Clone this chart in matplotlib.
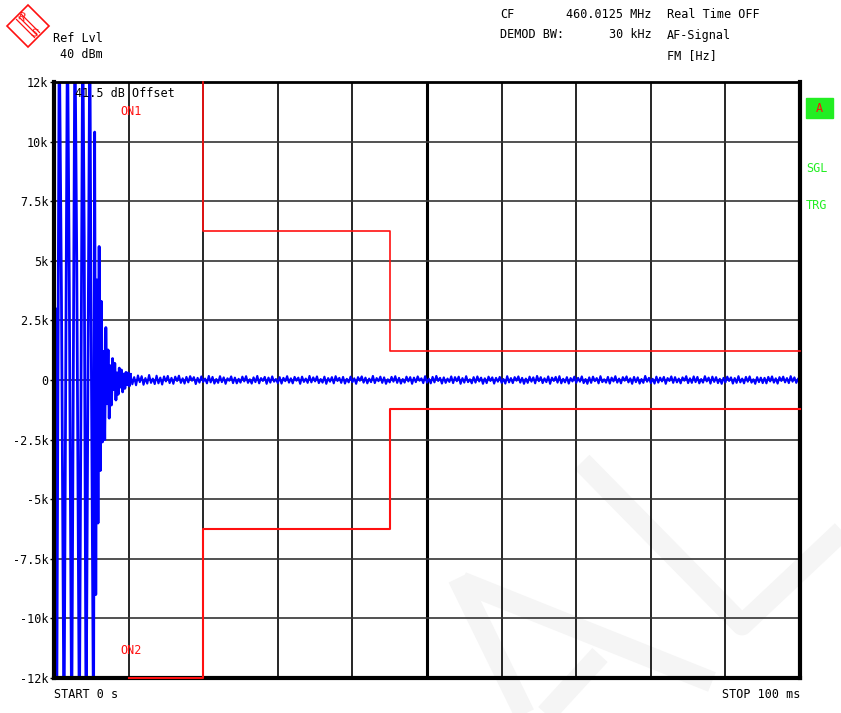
import numpy as np
import matplotlib
matplotlib.use("Agg")
import matplotlib.pyplot as plt
from matplotlib.lines import Line2D
from matplotlib.patches import Polygon, Rectangle

W, H = 841, 713

# ---- data read from the screen shot ----
# burst right after keying (ms, Hz), clipped by the display
burst_t = [0.0, 0.2, 0.36, 0.7, 1.0, 1.34, 1.8, 2.05, 2.37, 2.8, 3.05, 3.4, 3.85, 4.05,
           4.3, 4.8, 4.95, 5.3]
burst_v = [1200, 3000, -15000, 15000, 3500, -15000, 15000, 4000, -15000, 15000, 5000,
           -15000, 15000, 6000, -15000, 15000, 4000, -15000]

# ringing after the burst
decay_t = [5.45, 5.6, 5.75, 5.9, 6.05, 6.2, 6.35, 6.5, 6.65, 6.8, 6.95, 7.1, 7.25, 7.4,
           7.55, 7.7, 7.85, 8.0, 8.15, 8.3, 8.45, 8.6, 8.75, 8.9, 9.05, 9.2, 9.35, 9.5,
           9.65, 9.8, 9.95, 10.1]
decay_v = [10400, -9000, 4200, -6000, 5600, -3800, 3300, -2600, 1200, -2500, 2200, -1000,
           1260, -1600, 600, -1050, 900, -400, 700, -840, 300, -600, 500, -300, 420, -500,
           250, -350, 320, -200, 300, -250]

# residual FM noise, one value every 0.25 ms from 10.25 ms to 100 ms
tail_v = [
    240, -180, 120, -220, 190, -90, 160, -200, 80, -150, 210, -120, 60, -170, 180, -140, 100, -190, 150, -60,
    170, -130, 90, -160, 140, -40, 180, -120, 70, -150, 130, -100, 160, -30, 120, -170, 90, -110, 150, -80,
    60, -140, 170, -100, 130, -150, 40, -120, 160, -90, 110, -160, 70, -30, 150, -130, 100, -140, 50, -110,
    140, -60, 160, -120, 30, -150, 110, -90, 170, -140, 80, -40, 130, -160, 100, -110, 150, -70, 40, -130,
    120, -150, 90, -50, 160, -110, 70, -140, 130, -30, 100, -160, 140, -80, 60, -120, 170, -100, 110, -60,
    150, -130, 40, -110, 140, -160, 80, -70, 120, -140, 160, -40, 90, -120, 130, -150, 50, -100, 140, -90,
    70, -160, 120, -30, 150, -110, 100, -140, 60, -90, 170, -130, 80, -50, 140, -120, 110, -160, 30, -100,
    130, -70, 160, -120, 90, -150, 40, -110, 140, -60, 120, -160, 100, -90, 150, -30, 70, -130, 160, -110,
    50, -140, 130, -100, 170, -40, 90, -150, 110, -120, 60, -80, 150, -130, 120, -50, 140, -160, 80, -110,
    160, -90, 30, -140, 120, -110, 150, -60, 100, -160, 70, -130, 140, -40, 110, -150, 90, -70, 130, -120,
    40, -150, 160, -100, 80, -130, 120, -30, 150, -110, 90, -160, 60, -120, 140, -70, 110, -140, 170, -50,
    120, -130, 70, -90, 150, -160, 100, -40, 130, -110, 160, -140, 50, -100, 120, -150, 80, -60, 140, -120,
    90, -70, 150, -130, 40, -160, 110, -120, 140, -50, 80, -140, 160, -90, 30, -110, 130, -150, 100, -60,
    160, -110, 60, -140, 120, -30, 150, -100, 70, -160, 130, -90, 110, -150, 40, -120, 170, -70, 90, -130,
    50, -150, 140, -110, 100, -60, 130, -160, 80, -40, 150, -120, 120, -100, 60, -140, 110, -30, 160, -130,
    70, -120, 150, -90, 130, -140, 40, -110, 160, -60, 100, -150, 140, -80, 120, -130, 50, -160, 90, -100,
    140, -40, 110, -150, 80, -120, 160, -100, 60, -140, 130, -70, 150, -110, 30, -160, 120, -90, 100, -130,
    90, -140, 130, -60, 150, -110, 70, -150, 120, -40, 140, -100, 80, -130, 160, -70, 110, -120, 60, -90,
]
tail_t = list(np.arange(len(tail_v)) * 0.25 + 10.25)

# limit mask
upper_t = [20, 20, 45, 45, 100]
upper_v = [12500, 6250, 6250, 1200, 1200]
lower_t = [10, 20, 20, 45, 45, 100]
lower_v = [-12500, -12500, -6250, -6250, -1200, -1200]

yticks = [12500, 10000, 7500, 5000, 2500, 0, -2500, -5000, -7500, -10000, -12500]
ylabels = ['12k', '10k', '7.5k', '5k', '2.5k', '0', '-2.5k', '-5k', '-7.5k', '-10k', '-12k']
xticks = [0, 10, 20, 30, 40, 50, 60, 70, 80, 90, 100]

MONO = 'DejaVu Sans Mono'
FS = 8.5


def px(x, y):
    return x / W, 1 - y / H


fig = plt.figure(figsize=(W / 100, H / 100), dpi=100)
fig.patch.set_facecolor('white')

# faint watermark in the background
wm = '#f5f5f5'
for pts in [[(582, 462), (742, 625), (845, 528)],
            [(458, 578), (525, 715)],
            [(462, 582), (712, 682)],
            [(600, 655), (545, 715)]]:
    xs = [px(*p)[0] for p in pts]
    ys = [px(*p)[1] for p in pts]
    fig.add_artist(Line2D(xs, ys, color=wm, lw=15, solid_capstyle='butt', zorder=-5))

ax = fig.add_axes([54 / W, 1 - 678 / H, (800 - 54) / W, (678 - 82) / H])
ax.set_zorder(1)
ax.patch.set_alpha(0)
ax.set_xlim(0, 100)
ax.set_ylim(-12500, 12500)

# grid
for tt in xticks[1:-1]:
    ax.axvline(tt, color='black', lw=2.2 if tt == 50 else 1.2, zorder=1)
for v in yticks[1:-1]:
    ax.axhline(v, color='#333333', lw=1.2, zorder=1)

# trace
ax.plot(burst_t + decay_t + [tail_t[0]], burst_v + decay_v + [tail_v[0]],
        color='#0000ff', lw=2.0, zorder=3)
ax.plot(tail_t, tail_v, color='#0000ff', lw=1.5, zorder=3)

# limit lines
ax.plot(upper_t, upper_v, color='#ff1010', lw=1.2, zorder=5, clip_on=False)
ax.plot(lower_t, lower_v, color='#ff1010', lw=1.5, zorder=6, clip_on=False)

ax.set_xticks([])
ax.set_yticks(yticks)
ax.set_yticklabels(ylabels, family=MONO, fontsize=FS)
ax.tick_params(axis='y', length=3, width=1, pad=1)
for side, lw in [('left', 3), ('bottom', 3), ('right', 3), ('top', 2)]:
    ax.spines[side].set_linewidth(lw)
    ax.spines[side].set_zorder(4)

ax.text(2.75, 12000, '41.5 dB Offset', family=MONO, fontsize=FS, va='center', zorder=7)
ax.text(8.9, 11250, 'ON1', family=MONO, fontsize=FS, color='#ff1010', va='center')
ax.text(8.9, -11350, 'ON2', family=MONO, fontsize=FS, color='#ff1010', va='center')


# header texts
def t(x, y, s, **kw):
    kw.setdefault('family', MONO)
    kw.setdefault('fontsize', FS)
    kw.setdefault('va', 'center')
    fig.text(*px(x, y), s, **kw)


t(53, 38, 'Ref Lvl')
t(60, 55, '40 dBm')
t(500, 15, 'CF')
t(652, 15, '460.0125 MHz', ha='right')
t(667, 15, 'Real Time OFF')
t(500, 35, 'DEMOD BW:')
t(652, 35, '30 kHz', ha='right')
t(667, 35, 'AF-Signal')
t(667, 56, 'FM [Hz]')
t(54, 695, 'START 0 s')
t(800, 695, 'STOP 100 ms', ha='right')

# side annotations
fig.add_artist(Rectangle(px(806, 118), 27 / W, 20 / H, color='#22ee22', zorder=2))
t(819.5, 108, 'A', ha='center', color='#ff1010')
t(806, 168, 'SGL', color='#22ee22')
t(806, 206, 'TRG', color='#22ee22')

# R&S logo
cx, cy, r = 28, 26, 21
diamond = [px(cx, cy - r), px(cx + r, cy), px(cx, cy + r), px(cx - r, cy)]
fig.add_artist(Polygon(diamond, closed=True, fill=False, ec='#ff1010', lw=1.2))
for d in (-2.5, 0, 2.5):
    a = px(cx - 9 + d, cy - 9 - d)
    b = px(cx + 9 + d, cy + 9 - d)
    fig.add_artist(Line2D([a[0], b[0]], [a[1], b[1]], color='#ff1010', lw=0.9))
t(22, 18, 'R', ha='center', color='#ff1010', fontsize=8, rotation=-20, family='DejaVu Sans')
t(34, 33, 'S', ha='center', color='#ff1010', fontsize=8, rotation=-20, family='DejaVu Sans')

fig.savefig('out.png', dpi=100)
